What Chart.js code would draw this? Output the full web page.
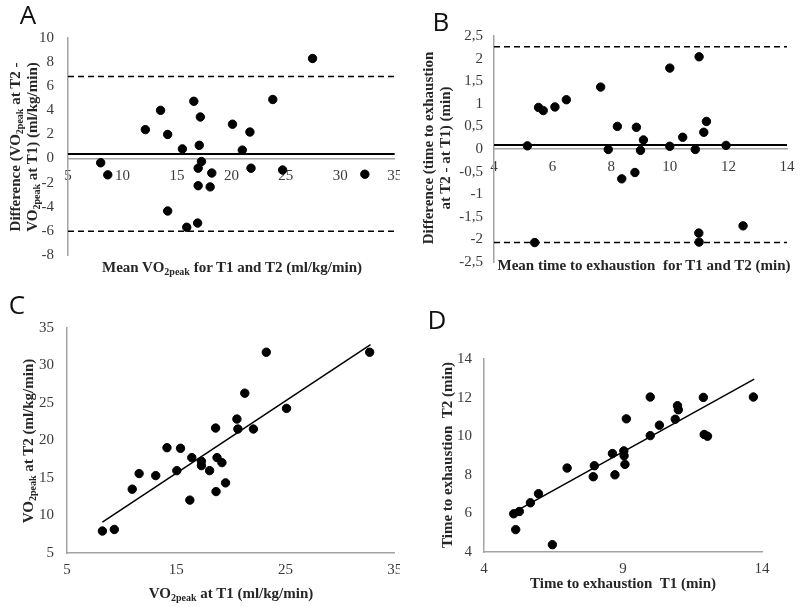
<!DOCTYPE html>
<html>
<head>
<meta charset="utf-8">
<title>VO2peak and time to exhaustion</title>
<script src="https://cdn.jsdelivr.net/npm/chart.js@4.4.1/dist/chart.umd.min.js"></script>
<style>
    body { margin: 0; background: #fff; }
    #wrap { position: relative; width: 800px; height: 607px; overflow: hidden; font-family: "Liberation Serif", serif; }
    canvas { position: absolute; }
    .panel { position: absolute; font-family: "Open Sans", sans-serif; font-size: 26px; color: #111; transform: translate(-50%, -50%); }
    .title { position: absolute; font-weight: bold; font-size: 15px; color: #262626; white-space: nowrap; text-align: center; line-height: 17px; transform: translate(-50%, -50%); }
    .rot { transform: translate(-50%, -50%) rotate(-90deg); }
    sub { font-size: 10px; vertical-align: -3px; line-height: 0; }
</style>
</head>
<body>
<div id="wrap">
    <canvas id="chartA" width="400" height="300" style="left:0;top:0"></canvas>
    <canvas id="chartB" width="400" height="300" style="left:400px;top:0"></canvas>
    <canvas id="chartC" width="400" height="307" style="left:0;top:300px"></canvas>
    <canvas id="chartD" width="400" height="307" style="left:400px;top:300px"></canvas>

    <div class="panel" style="left:28px;top:14px">A</div>
    <div class="panel" style="left:441px;top:21px">B</div>
    <div class="panel" style="left:17px;top:304px">C</div>
    <div class="panel" style="left:437px;top:319px">D</div>

    <div class="title rot" style="left:24px;top:147px">Difference (VO<sub>2peak</sub> at T2 -<br>VO<sub>2peak</sub> at T1) (ml/kg/min)</div>
    <div class="title" style="left:232px;top:267px">Mean VO<sub>2peak</sub> for T1 and T2 (ml/kg/min)</div>

    <div class="title rot" style="left:437px;top:148px">Difference (time to exhaustion<br>at T2 - at T1) (min)</div>
    <div class="title" style="left:644px;top:265px">Mean time to exhaustion &nbsp;for T1 and T2 (min)</div>

    <div class="title rot" style="left:28px;top:441px">VO<sub>2peak</sub> at T2 (ml/kg/min)</div>
    <div class="title" style="left:231px;top:593px">VO<sub>2peak</sub> at T1 (ml/kg/min)</div>

    <div class="title rot" style="left:447px;top:455px">Time to exhaustion &nbsp;T2 (min)</div>
    <div class="title" style="left:623px;top:583px">Time to exhaustion &nbsp;T1 (min)</div>
</div>

<script>
// A - Bland-Altman, VO2peak
const meanVO2 = [8.0, 8.65, 12.1, 13.5, 14.15, 14.15, 15.5, 15.9, 16.55, 16.95, 16.95, 16.9, 17.05, 17.15, 17.25, 18.05, 18.2, 20.1, 21.0, 21.7, 21.8, 23.8, 24.7, 27.45, 32.25];
const diffVO2 = [-0.35, -1.35, 2.4, 4.0, 2.0, -4.35, 0.8, -5.7, 4.75, -0.8, -2.25, -5.35, 1.1, 3.45, -0.25, -2.35, -1.2, 2.85, 0.7, 2.2, -0.8, 4.9, -0.95, 8.3, -1.3];
const limitsVO2 = [0.38, 6.8, -6.02];   // bias, upper, lower

// B - Bland-Altman, time to exhaustion
const meanTTE = [5.14, 5.39, 5.52, 5.68, 6.08, 6.47, 7.64, 7.9, 8.21, 8.36, 8.81, 8.86, 9.0, 9.1, 10.0, 10.0, 10.44, 10.87, 10.99, 11.0, 11.0, 11.16, 11.25, 11.92, 12.5];
const diffTTE = [0.07, -2.07, 0.92, 0.85, 0.93, 1.09, 1.37, -0.01, 0.5, -0.66, -0.52, 0.48, -0.03, 0.2, 1.79, 0.06, 0.26, -0.01, -1.86, -2.06, 2.04, 0.37, 0.61, 0.08, -1.7];
const limitsTTE = [0.09, 2.26, -2.07];

// C - VO2peak T1 vs T2
const vo2T1 = [8.24, 9.33, 10.97, 11.6, 13.12, 14.15, 15.05, 15.39, 16.24, 16.42, 17.3, 17.3, 18.05, 18.6, 18.64, 18.73, 19.18, 19.51, 20.55, 20.64, 21.27, 22.06, 23.24, 25.09, 32.7];
const vo2T2 = [7.93, 8.14, 13.51, 15.59, 15.32, 19.04, 15.98, 18.96, 12.05, 17.72, 17.23, 16.65, 15.98, 21.66, 13.19, 17.72, 17.05, 14.35, 22.86, 21.53, 26.31, 21.53, 31.77, 24.28, 31.77];
const trendVO2X = [8.24, 32.78];
const trendVO2Y = [9.12, 32.79];

// D - time to exhaustion T1 vs T2
const tteT1 = [5.07, 5.14, 5.27, 5.67, 5.96, 6.46, 6.99, 7.93, 7.97, 8.62, 8.71, 9.03, 9.04, 9.07, 9.12, 9.98, 9.98, 10.31, 10.88, 10.96, 10.99, 11.89, 11.92, 12.04, 13.69];
const tteT2 = [5.98, 5.16, 6.1, 6.55, 7.02, 4.38, 8.35, 7.9, 8.47, 9.1, 8.0, 9.24, 8.99, 8.54, 10.9, 12.03, 10.03, 10.57, 10.88, 11.58, 11.37, 12.01, 10.09, 10.0, 12.03];
const trendTTEX = [5.07, 13.72];
const trendTTEY = [6.05, 12.96];

// axis ranges [min, max, step]
const axisAx = [5, 35, 5], axisAy = [-8, 10, 2];
const axisBx = [4, 14, 2], axisBy = [-2.5, 2.5, 0.5];
const axisCx = [5, 35, 10], axisCy = [5, 35, 5];
const axisDx = [4, 14, 5], axisDy = [4, 14, 2];

Chart.defaults.font.family = '"Liberation Serif", serif';
Chart.defaults.font.size = 15;
Chart.defaults.color = '#3a3a3a';
Chart.defaults.animation = false;

const commaFmt = v => String(v).replace('.', ',');

function dots(xs, ys) {
    return {
        data: xs.map((x, i) => ({ x: x, y: ys[i] })),
        backgroundColor: '#000',
        borderColor: '#000',
        pointRadius: 4.2,
        pointHoverRadius: 4.2
    };
}

function segment(xs, ys, width, dash) {
    return {
        data: xs.map((x, i) => ({ x: x, y: ys[i] })),
        showLine: true,
        borderColor: '#000',
        borderWidth: width,
        borderDash: dash || [],
        pointRadius: 0,
        pointHoverRadius: 0
    };
}

function scaleX(ax, pos, height, pad, fmt) {
    return {
        type: 'linear', min: ax[0], max: ax[1], position: pos,
        grid: { display: false, drawTicks: false },
        border: { display: true, color: '#a3a3a3', width: 1.5 },
        ticks: { stepSize: ax[2], padding: pad, maxRotation: 0, autoSkip: false, callback: fmt },
        afterFit: s => { s.height = height; s.paddingLeft = 0; s.paddingRight = 0; s.paddingTop = 0; s.paddingBottom = 0; }
    };
}

function scaleY(ax, width, pad, fmt) {
    return {
        type: 'linear', min: ax[0], max: ax[1],
        grid: { display: false, drawTicks: false },
        border: { display: true, color: '#a3a3a3', width: 1.5 },
        ticks: { stepSize: ax[2], padding: pad, autoSkip: false, callback: fmt },
        afterFit: s => { s.width = width; s.paddingTop = 0; s.paddingBottom = 0; }
    };
}

function makeChart(id, datasets, x, y, padding) {
    const ctx = document.getElementById(id).getContext('2d');
    return new Chart(ctx, {
        type: 'scatter',
        data: { datasets: datasets },
        options: {
            responsive: false,
            layout: { padding: padding },
            plugins: { legend: { display: false }, tooltip: { enabled: false } },
            scales: { x: x, y: y }
        }
    });
}

const plain = v => String(v);

// A
makeChart('chartA', [
    dots(meanVO2, diffVO2),
    segment([axisAx[0], axisAx[1]], [limitsVO2[0], limitsVO2[0]], 2),
    segment([axisAx[0], axisAx[1]], [limitsVO2[1], limitsVO2[1]], 1.5, [6, 4]),
    segment([axisAx[0], axisAx[1]], [limitsVO2[2], limitsVO2[2]], 1.5, [6, 4])
], scaleX(axisAx, { y: 0 }, 0, 9, plain), scaleY(axisAy, 68, 14, plain),
   { left: 0, top: 38, right: 2, bottom: 45 });

// B
makeChart('chartB', [
    dots(meanTTE, diffTTE),
    segment([axisBx[0], axisBx[1]], [limitsTTE[0], limitsTTE[0]], 2),
    segment([axisBx[0], axisBx[1]], [limitsTTE[1], limitsTTE[1]], 1.5, [6, 4]),
    segment([axisBx[0], axisBx[1]], [limitsTTE[2], limitsTTE[2]], 1.5, [6, 4])
], scaleX(axisBx, { y: 0 }, 0, 9, plain), scaleY(axisBy, 94, 11, commaFmt),
   { left: 0, top: 36, right: 13, bottom: 38 });

// C
makeChart('chartC', [
    dots(vo2T1, vo2T2),
    segment(trendVO2X, trendVO2Y, 1.5)
], scaleX(axisCx, 'bottom', 54, 8, plain), scaleY(axisCy, 67, 13, plain),
   { left: 0, top: 28, right: 5, bottom: 0 });

// D
makeChart('chartD', [
    dots(tteT1, tteT2),
    segment(trendTTEX, trendTTEY, 1.5)
], scaleX(axisDx, 'bottom', 55, 8, plain), scaleY(axisDy, 84, 12, plain),
   { left: 0, top: 59, right: 38, bottom: 0 });
</script>
</body>
</html>
